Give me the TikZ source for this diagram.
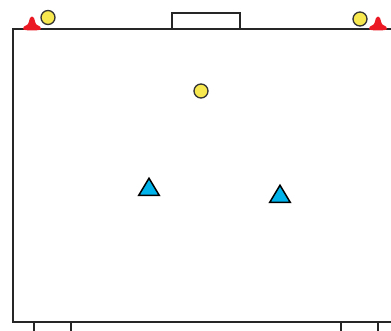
\documentclass[tikz,border=0pt]{standalone}
\usetikzlibrary{shapes.geometric}
\definecolor{playerblue}{RGB}{0,180,235}
\definecolor{ballyellow}{RGB}{248,232,80}
\definecolor{conered}{RGB}{235,25,35}
\begin{document}
\begin{tikzpicture}[x=1pt,y=-1pt,
  fieldline/.style={line width=2pt,draw=black!85},
  ball/.style={circle,draw=black!80,line width=1.3pt,fill=ballyellow,minimum size=14pt,inner sep=0pt},
  player/.style={isosceles triangle,isosceles triangle apex angle=62,shape border rotate=90,draw=black,line width=1.5pt,fill=playerblue,minimum height=17pt,inner sep=0pt},
  conefill/.style={fill=conered}
]
\useasboundingbox (0,0) rectangle (391,331);
% field
\draw[fieldline] (391,29) -- (13,29) -- (13,322) -- (391,322);
% top goal
\draw[fieldline] (172,29) -- (172,13) -- (240,13) -- (240,29);
% bottom goals
\draw[fieldline] (33.5,331) -- (33.5,322);
\draw[fieldline] (70.5,331) -- (70.5,322);
\draw[fieldline] (340.5,331) -- (340.5,322);
\draw[fieldline] (377.5,331) -- (377.5,322);
% cones
\foreach \cx/\nm in {32/coneL,378/coneR}{
  \fill[conefill] (\cx-9,29) .. controls (\cx-9,25) and (\cx-4,26) .. (\cx-3.5,23)
     -- (\cx-2,18) .. controls (\cx-1,16) and (\cx+1,16) .. (\cx+2,18)
     -- (\cx+3.5,23) .. controls (\cx+4,26) and (\cx+9,25) .. (\cx+9,29)
     .. controls (\cx+9,31) and (\cx-9,31) .. (\cx-9,29) -- cycle;
  \coordinate (\nm) at (\cx,29);
}
% balls
\node[ball] (b1) at (48,17.5) {};
\node[ball] (b2) at (360,19) {};
\node[ball] (b3) at (201,91) {};
% players
\node[player] (p1) at (149,189.5) {};
\node[player] (p2) at (280,196.5) {};
\end{tikzpicture}
\end{document}
